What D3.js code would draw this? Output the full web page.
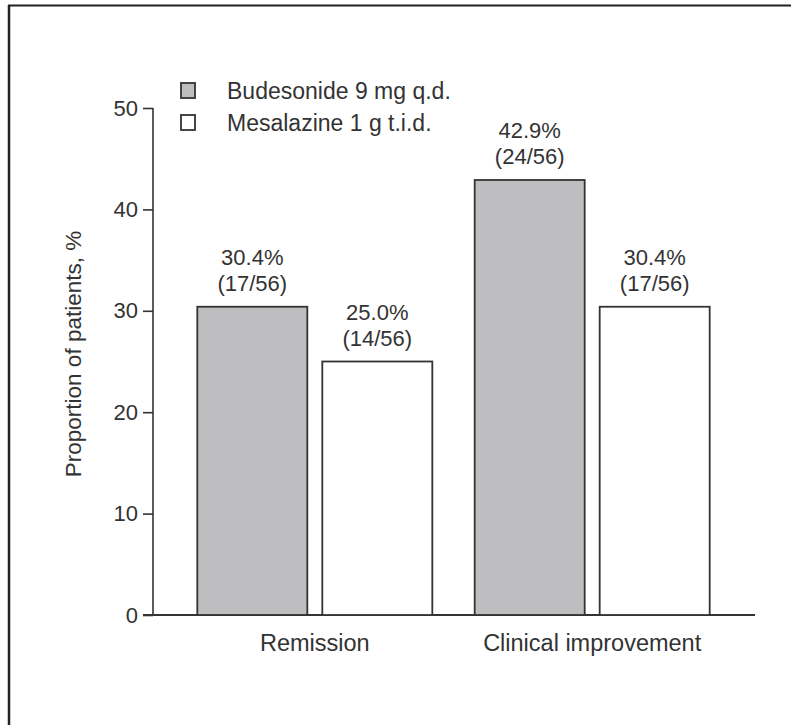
<!DOCTYPE html>
<html><head><meta charset="utf-8">
<script src="https://cdn.jsdelivr.net/npm/d3@7"></script>
<style>body{margin:0;background:#fff}svg{display:block;font-family:"Liberation Sans",Arial,sans-serif}</style>
</head><body>
<svg id="c" width="791" height="725"></svg>
<script>
const categories = ["Remission", "Clinical improvement"];
const seriesNames = ["Budesonide 9 mg q.d.", "Mesalazine 1 g t.i.d."];
const budesonide = [30.4, 42.9];
const mesalazine = [25.0, 30.4];
const budesonideCounts = ["(17/56)", "(24/56)"];
const mesalazineCounts = ["(14/56)", "(17/56)"];
const yTicks = [0, 10, 20, 30, 40, 50];

const fills = ["#bebec1", "#ffffff"];
const ink = "#333";
const svg = d3.select("#c");

// frame (left and top edges)
svg.append("line").attr("x1",9).attr("x2",9).attr("y1",5).attr("y2",725).attr("stroke","#222").attr("stroke-width",2.5);
svg.append("line").attr("x1",8).attr("x2",791).attr("y1",5.5).attr("y2",5.5).attr("stroke","#222").attr("stroke-width",2);

const y = d3.scaleLinear().domain([0,50]).range([615,108]);
const x0 = d3.scaleBand().domain(categories).range([180, 727]).paddingInner(0.028).paddingOuter(0);

// y axis
const yAxis = d3.axisLeft(y).tickValues(yTicks).tickSize(10).tickPadding(5);
const gy = svg.append("g").attr("transform","translate(153,0)").call(yAxis);
gy.select(".domain").attr("stroke",ink).attr("stroke-width",1.6).attr("d","M0,108V615");
gy.selectAll(".tick line").attr("stroke",ink).attr("stroke-width",1.6);
gy.selectAll(".tick text").attr("fill",ink).attr("font-size",22).attr("font-family","Liberation Sans, Arial, sans-serif");

// x axis baseline
svg.append("line").attr("x1",143).attr("x2",755).attr("y1",y(0)).attr("y2",y(0)).attr("stroke",ink).attr("stroke-width",1.8);

const data = categories.map((c,i)=>({c, vals:[budesonide[i], mesalazine[i]], counts:[budesonideCounts[i], mesalazineCounts[i]]}));

const bw = 110, gap = 15;
const groups = svg.append("g").selectAll("g").data(data).join("g")
  .attr("transform", d => `translate(${x0(d.c) + (x0.bandwidth() - (2*bw+gap))/2},0)`);

groups.each(function(d){
  const g = d3.select(this);
  d.vals.forEach((v,j)=>{
    const bx = j*(bw+gap);
    g.append("rect").attr("x",bx).attr("y",y(v)).attr("width",bw).attr("height",y(0)-y(v))
      .attr("fill",fills[j]).attr("stroke",ink).attr("stroke-width",1.8);
    const t = g.append("text").attr("text-anchor","middle").attr("fill",ink).attr("font-size",22);
    t.append("tspan").attr("x",bx+bw/2).attr("y",y(v)-42).text(v.toFixed(1)+"%");
    t.append("tspan").attr("x",bx+bw/2).attr("y",y(v)-16).text(d.counts[j]);
  });
});

// category labels
svg.append("g").selectAll("text").data(data).join("text")
  .attr("x", d => x0(d.c) + x0.bandwidth()/2)
  .attr("y", 651).attr("text-anchor","middle").attr("fill",ink).attr("font-size",23.5)
  .text(d => d.c);

// y label
svg.append("text").attr("transform","translate(81,354) rotate(-90)").attr("text-anchor","middle")
  .attr("fill",ink).attr("font-size",22.5).text("Proportion of patients, %");

// legend
const lg = svg.append("g").selectAll("g").data(seriesNames).join("g")
  .attr("transform",(d,i)=>`translate(181,${83 + i*32})`);
lg.append("rect").attr("width",14).attr("height",15).attr("fill",(d,i)=>fills[i]).attr("stroke",ink).attr("stroke-width",1.8);
lg.append("text").attr("x",46).attr("y",16).attr("fill",ink).attr("font-size",23).text(d=>d);
</script>
</body></html>
